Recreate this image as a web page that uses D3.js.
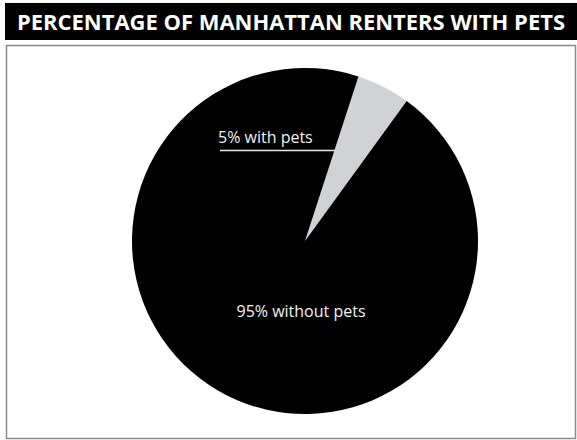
<!DOCTYPE html>
<html>
<head>
<meta charset="utf-8">
<script src="https://cdn.jsdelivr.net/npm/d3@7"></script>
<style>
  body { margin: 0; background: #fff; }
  svg { display: block; }
</style>
</head>
<body>
<div id="chart"></div>
<script>
// Chart data
const title = "PERCENTAGE OF MANHATTAN RENTERS WITH PETS";
const categories = ["with pets", "without pets"];
const shares = [5, 95];
const labels = ["5% with pets", "95% without pets"];
const colors = ["#d1d2d4", "#000000"];

const width = 577, height = 440;

const svg = d3.select("#chart").append("svg")
    .attr("width", width)
    .attr("height", height);

// Title bar
svg.append("rect")
    .attr("x", 5).attr("y", 3)
    .attr("width", width - 5).attr("height", 37)
    .attr("fill", "#000");

svg.append("text")
    .attr("x", 17).attr("y", 30)
    .attr("fill", "#fff")
    .attr("font-family", "'Open Sans', sans-serif")
    .attr("font-weight", "bold")
    .attr("font-size", 22)
    .attr("textLength", 548)
    .attr("lengthAdjust", "spacingAndGlyphs")
    .text(title);

// Frame
svg.append("rect")
    .attr("x", 6.5).attr("y", 45.5)
    .attr("width", 569).attr("height", 393)
    .attr("fill", "none")
    .attr("stroke", "#8a8a8a")
    .attr("stroke-width", 1.5);

// Pie
const cx = 305, cy = 241, radius = 173;
const data = categories.map((c, i) => ({category: c, value: shares[i], label: labels[i], color: colors[i]}));

const pie = d3.pie()
    .sort(null)
    .value(d => d.value)
    .startAngle(18 * Math.PI / 180)
    .endAngle(18 * Math.PI / 180 + 2 * Math.PI);

const arc = d3.arc().innerRadius(0).outerRadius(radius);

const g = svg.append("g").attr("transform", `translate(${cx},${cy})`);

g.selectAll("path")
    .data(pie(data))
    .enter().append("path")
    .attr("d", arc)
    .attr("fill", d => d.data.color);

// Labels
svg.append("text")
    .attr("x", 218).attr("y", 143)
    .attr("fill", "#f2f2f2")
    .attr("font-family", "'Open Sans', sans-serif")
    .attr("font-size", 16)
    .text(labels[0]);

svg.append("line")
    .attr("x1", 220).attr("x2", 335)
    .attr("y1", 150.5).attr("y2", 150.5)
    .attr("stroke", "#e6e6e6")
    .attr("stroke-width", 1.5);

svg.append("text")
    .attr("x", 301).attr("y", 317)
    .attr("text-anchor", "middle")
    .attr("fill", "#f2f2f2")
    .attr("font-family", "'Open Sans', sans-serif")
    .attr("font-size", 16)
    .text(labels[1]);
</script>
</body>
</html>
